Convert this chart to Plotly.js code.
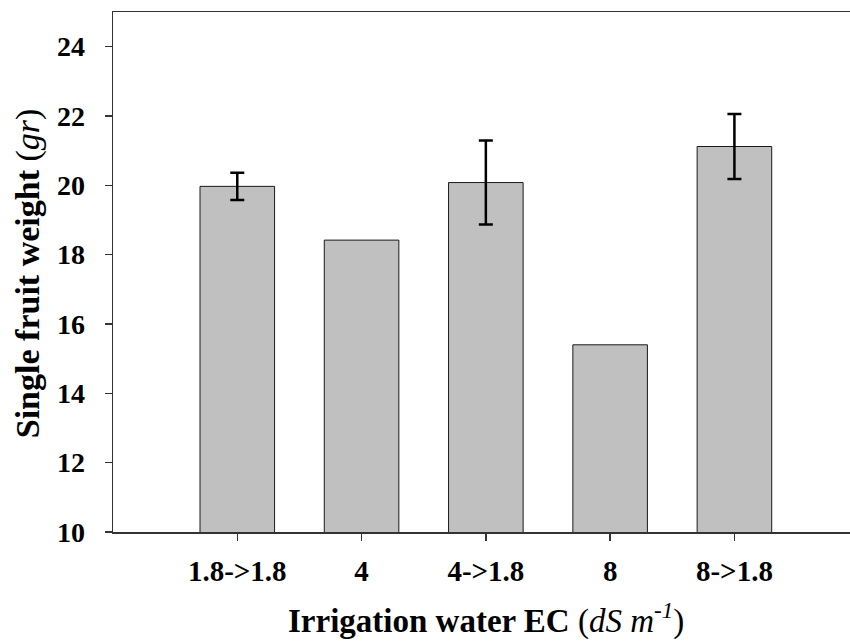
<!DOCTYPE html>
<html>
<head>
<meta charset="utf-8">
<script src="https://cdn.plot.ly/plotly-3.0.1.min.js"></script>
<style>html,body{margin:0;padding:0;background:#fff;}#chart{width:850px;height:644px;}</style>
</head>
<body>
<div id="chart"></div>
<script>
const categories = ["1.8->1.8", "4", "4->1.8", "8", "8->1.8"];
const weights = [19.97, 18.42, 20.08, 15.40, 21.12];
const errors = [0.39, null, 1.21, null, 0.94];
const yTicks = [10, 12, 14, 16, 18, 20, 22, 24];
const xTitle = "<b>Irrigation water EC</b> (<i>dS m<sup>-1</sup></i>)";
const yTitle = "<b>Single fruit weight</b> (<i>gr</i>)";

const font = "Liberation Serif";

const barTrace = {
  type: "bar",
  x: categories,
  y: weights,
  marker: {color: "#c0c0c0", line: {color: "#1a1a1a", width: 1}},
  hoverinfo: "x+y",
  showlegend: false
};

const errIdx = errors.map((e, i) => e === null ? -1 : i).filter(i => i >= 0);
const errTrace = {
  type: "scatter",
  mode: "markers",
  x: errIdx.map(i => categories[i]),
  y: errIdx.map(i => weights[i]),
  marker: {opacity: 0, size: 1},
  error_y: {type: "data", array: errIdx.map(i => errors[i]), visible: true,
            color: "#000", thickness: 2.5, width: 7},
  showlegend: false,
  hoverinfo: "skip"
};

const L = 113, T = 12, B = 111.5, W = 850, H = 644;
const plotW = W - L, plotH = H - T - B;

const layout = {
  width: W, height: H,
  margin: {l: L, r: 0, t: T, b: B},
  paper_bgcolor: "#fff", plot_bgcolor: "#fff",
  bargap: 0.4,
  showlegend: false,
  font: {family: font, color: "#000"},
  xaxis: {
    type: "category",
    range: [-1, 4.93],
    showline: true, linecolor: "#333", linewidth: 1.5, mirror: true,
    ticks: "outside", ticklen: 7, tickwidth: 1.5, tickcolor: "#333",
    showgrid: false, zeroline: false,
    tickfont: {family: font, size: 29, weight: "bold", color: "#000"},
    ticklabelstandoff: 6
  },
  yaxis: {
    range: [10, 25],
    tickvals: yTicks,
    ticktext: yTicks.map(String),
    showline: true, linecolor: "#333", linewidth: 1.5, mirror: false,
    ticks: "outside", ticklen: 7, tickwidth: 1.5, tickcolor: "#333",
    showgrid: false, zeroline: false,
    tickfont: {family: font, size: 28, weight: "bold", color: "#000"},
    ticklabelstandoff: 14
  },
  annotations: [
    {text: xTitle, xref: "paper", yref: "paper",
     x: (486 - L) / plotW, y: -(619 - (T + plotH)) / plotH,
     xanchor: "center", yanchor: "middle", showarrow: false,
     font: {family: font, size: 33, color: "#000"}},
    {text: yTitle, xref: "paper", yref: "paper", textangle: -90,
     x: (28 - L) / plotW, y: ((T + plotH) - 273.5) / plotH,
     xanchor: "center", yanchor: "middle", showarrow: false,
     font: {family: font, size: 34, color: "#000"}}
  ]
};

Plotly.newPlot("chart", [barTrace, errTrace], layout, {displayModeBar: false, staticPlot: true});
</script>
</body>
</html>
